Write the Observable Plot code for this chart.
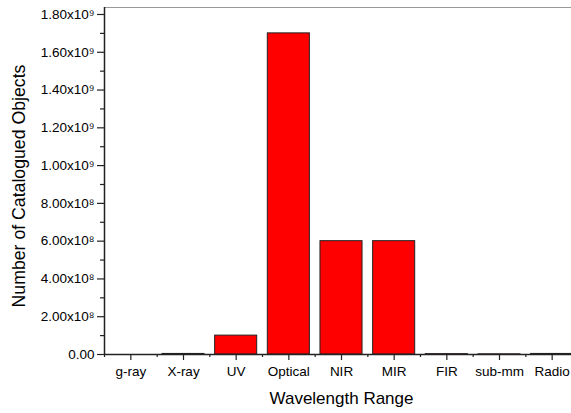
<!DOCTYPE html>
<html><head><meta charset="utf-8">
<script src="https://cdn.jsdelivr.net/npm/d3@7"></script>
<script src="https://cdn.jsdelivr.net/npm/@observablehq/plot@0.6"></script>
<style>body{margin:0;background:#fff;overflow:hidden} svg{display:block}</style>
</head><body><div id="chart"></div>
<script>
const categories = ["g-ray","X-ray","UV","Optical","NIR","MIR","FIR","sub-mm","Radio"];
const counts = [0, 3e6, 1e8, 1.7e9, 6e8, 6e8, 2e6, 1e6, 3e6];
const yMajorTicks = [0, 2e8, 4e8, 6e8, 8e8, 1e9, 1.2e9, 1.4e9, 1.6e9, 1.8e9];
const yMinorTicks = [1e8, 3e8, 5e8, 7e8, 9e8, 1.1e9, 1.3e9, 1.5e9, 1.7e9];
const yTickLabels = ["0.00","2.00x10⁸","4.00x10⁸","6.00x10⁸","8.00x10⁸","1.00x10⁹","1.20x10⁹","1.40x10⁹","1.60x10⁹","1.80x10⁹"];
const yMax = 1.837e9;
const xLabel = "Wavelength Range";
const yLabel = "Number of Catalogued Objects";

const data = categories.map((c, i) => ({cat: c, i, value: counts[i]}));
const centers = categories.map((c, i) => i + 0.5);
const bounds = d3.range(categories.length + 1);

const chart = Plot.plot({
  width: 571,
  height: 413,
  marginLeft: 104,
  marginRight: -7,
  marginTop: 7,
  marginBottom: 59,
  style: {fontFamily: "'Liberation Sans', Arial, sans-serif", background: "#fff", color: "#000"},
  x: {domain: [0, categories.length], axis: null},
  y: {domain: [0, yMax], axis: null},
  marks: [
    Plot.rectY(data, {x: "i", interval: 1, y: "value", insetLeft: 5.3, insetRight: 5.3, fill: "#ff0000", stroke: "#222", strokeWidth: 1}),
    Plot.ruleY([yMax], {stroke: "#999", strokeWidth: 1}),
    Plot.ruleX([0], {stroke: "#222", strokeWidth: 1.5}),
    Plot.ruleY([0], {stroke: "#222", strokeWidth: 1.5}),
    Plot.axisY(yMajorTicks, {tickSize: 7, tickPadding: 3, stroke: "#222", strokeWidth: 1.2, fontSize: 13.5, label: null,
      tickFormat: d => yTickLabels[yMajorTicks.indexOf(d)]}),
    Plot.axisY(yMinorTicks, {tickSize: 4, stroke: "#222", strokeWidth: 1.2, label: null, tickFormat: () => ""}),
    Plot.axisX(centers, {tickSize: 6, tickPadding: 6, stroke: "#222", strokeWidth: 1.2, fontSize: 13.5, label: null,
      tickFormat: d => categories[centers.indexOf(d)]}),
    Plot.axisX(bounds, {tickSize: 3, stroke: "#222", strokeWidth: 1.2, label: null, tickFormat: () => ""}),
    Plot.text([xLabel], {frameAnchor: "bottom", dy: 44, lineAnchor: "middle", fontSize: 17}),
    Plot.text([yLabel], {frameAnchor: "left", rotate: -90, dx: -85, dy: 5, textAnchor: "middle", lineAnchor: "middle", fontSize: 17.7})
  ]
});
document.getElementById("chart").appendChild(chart);
</script></body></html>
